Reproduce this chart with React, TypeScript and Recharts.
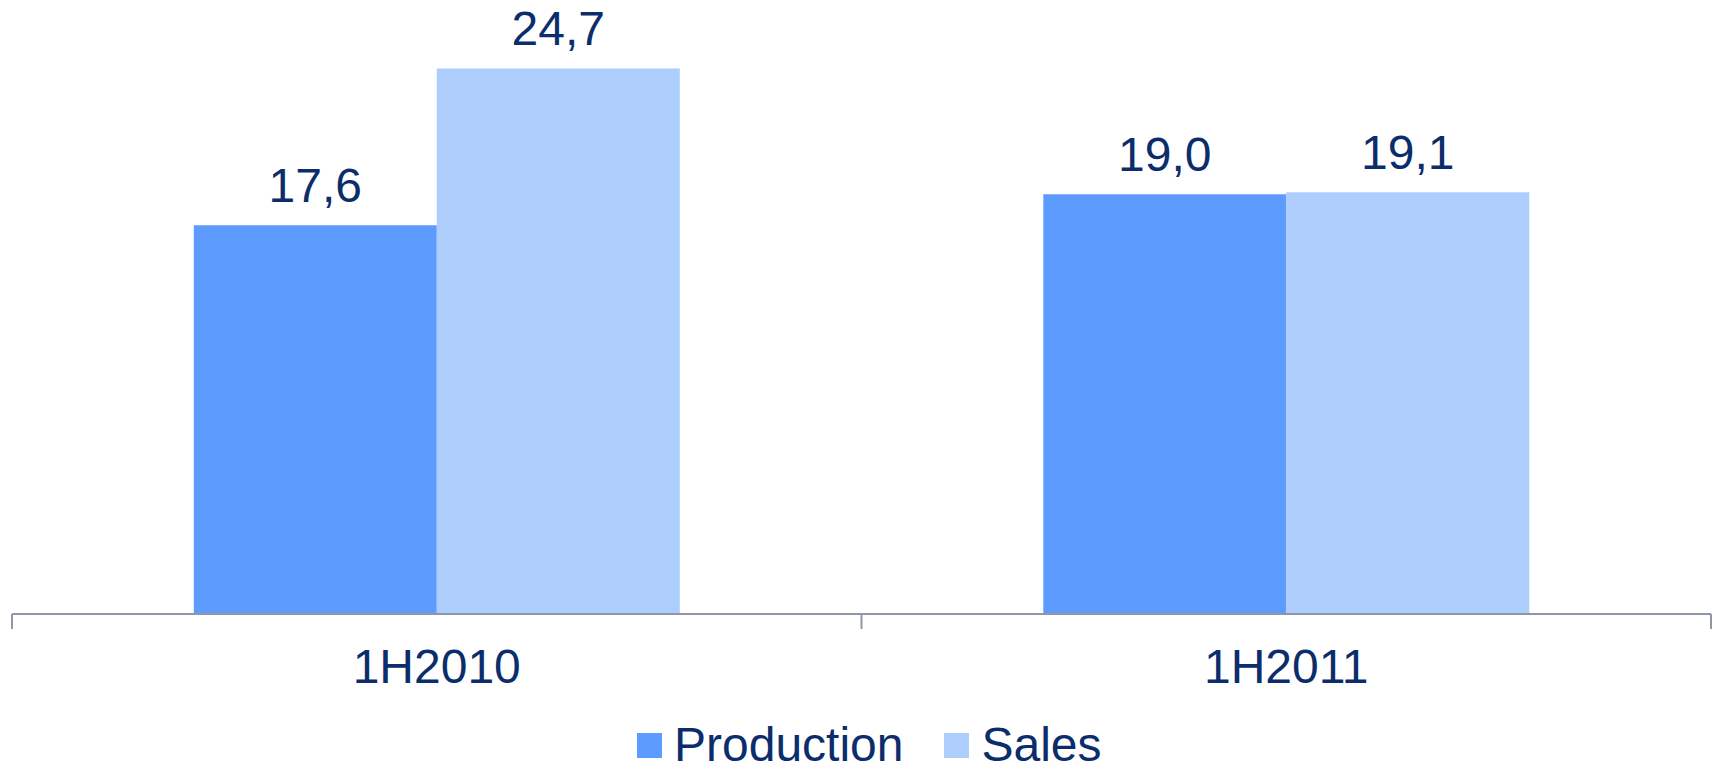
import { BarChart, Bar, XAxis, YAxis, Legend, LabelList } from 'recharts';

const periods = ['1H2010', '1H2011'];
const production = [17.6, 19.0];
const sales = [24.7, 19.1];

const TEXT = '#0B2D6B';
const AXIS = '#9095A8';
const FONT = '"Liberation Sans", Arial, sans-serif';
const FS = 48;
const TICK_SIZE = 15;
const TICK_MARGIN = 20;

const chartData = periods.map((period, i) => ({
  period,
  production: production[i],
  sales: sales[i],
}));

const fmt = (v: number) => v.toFixed(1).replace('.', ',');

function LegendBox({ payload }: any) {
  return (
    <div style={{ display: 'flex', alignItems: 'center', paddingLeft: 625 }}>
      {(payload || []).map((item: any, i: number) => (
        <div key={item.value} style={{ display: 'flex', alignItems: 'center', marginLeft: i === 0 ? 0 : 41 }}>
          <span style={{ width: 25, height: 25, background: item.color, display: 'inline-block', marginRight: 12 }} />
          <span style={{ color: TEXT, fontSize: FS, fontFamily: FONT, lineHeight: '50px' }}>{item.value}</span>
        </div>
      ))}
    </div>
  );
}

// category label plus tick marks on the category boundaries (Excel style)
function PeriodTick(props: any) {
  const { x, y, payload, index, visibleTicksCount, width } = props;
  const half = payload?.offset || width / visibleTicksCount / 2;
  const axisY = y - TICK_SIZE - TICK_MARGIN;
  const last = index === visibleTicksCount - 1;
  return (
    <g>
      <line x1={x - half} x2={x - half} y1={axisY} y2={axisY + TICK_SIZE} stroke={AXIS} strokeWidth={2} />
      {last && (
        <line x1={x + half} x2={x + half} y1={axisY} y2={axisY + TICK_SIZE} stroke={AXIS} strokeWidth={2} />
      )}
      <text x={x} y={y} dy="0.71em" textAnchor="middle" fill={TEXT} fontSize={FS} fontFamily={FONT}>
        {payload.value}
      </text>
    </g>
  );
}

export default function App() {
  return (
    <div style={{ position: 'absolute', left: 0, top: 0, background: '#fff' }}>
      <BarChart
        width={1713}
        height={768}
        data={chartData}
        margin={{ top: 0, right: 2, left: 12, bottom: 0 }}
        barCategoryGap="21.4%"
        barGap={0}
      >
        <XAxis
          dataKey="period"
          height={104}
          tickLine={false}
          axisLine={{ stroke: AXIS, strokeWidth: 2 }}
          tickSize={TICK_SIZE}
          tickMargin={TICK_MARGIN}
          tick={<PeriodTick />}
        />
        <YAxis hide domain={[0, 27.8]} />
        <Legend
          verticalAlign="bottom"
          height={50}
          content={<LegendBox />}
          wrapperStyle={{ bottom: -2 }}
        />
        <Bar dataKey="production" name="Production" fill="#5D9BFF" isAnimationActive={false}>
          <LabelList
            dataKey="production"
            position="top"
            offset={23}
            formatter={(v: any) => fmt(Number(v))}
            style={{ fill: TEXT, fontSize: FS, fontFamily: FONT }}
          />
        </Bar>
        <Bar dataKey="sales" name="Sales" fill="#ADCDFD" isAnimationActive={false}>
          <LabelList
            dataKey="sales"
            position="top"
            offset={23}
            formatter={(v: any) => fmt(Number(v))}
            style={{ fill: TEXT, fontSize: FS, fontFamily: FONT }}
          />
        </Bar>
      </BarChart>
    </div>
  );
}
